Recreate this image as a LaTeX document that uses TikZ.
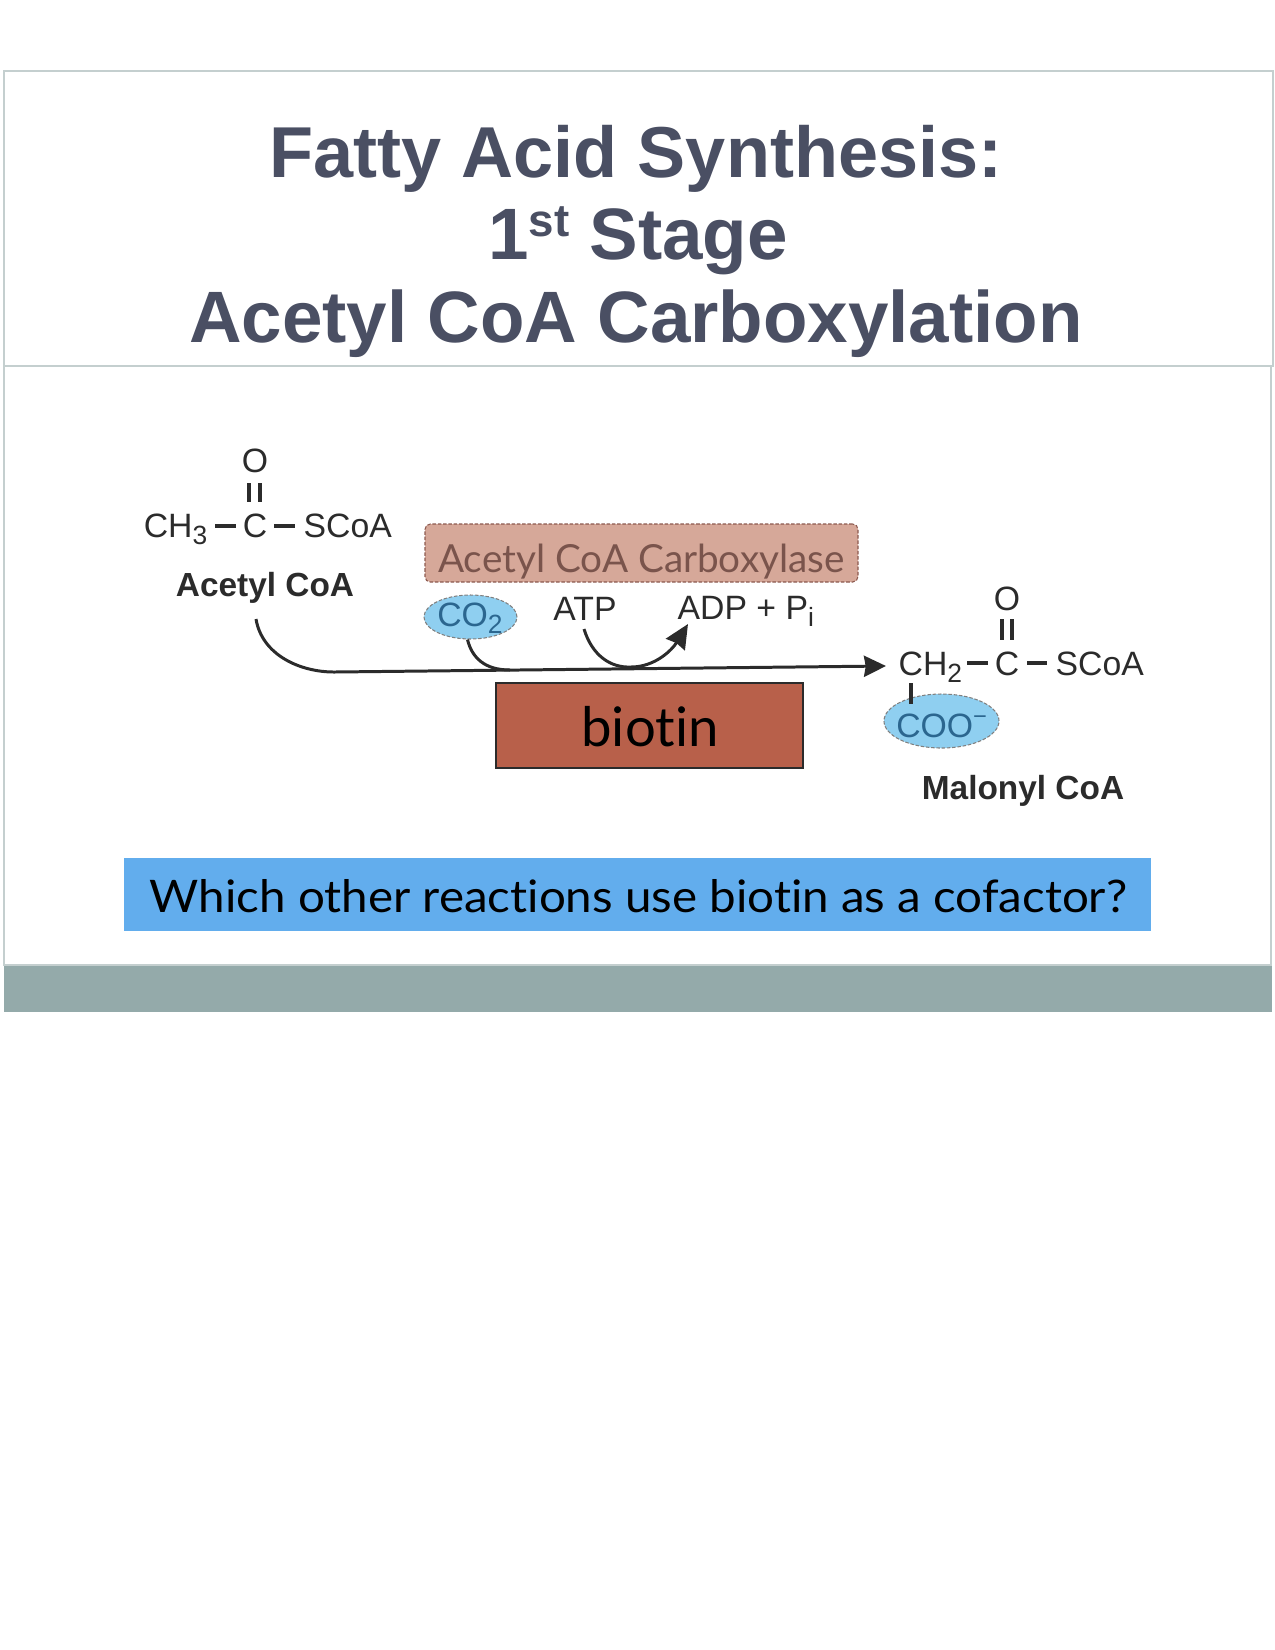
\documentclass[tikz,border=0pt]{standalone}
\usepackage{fontspec}
\usetikzlibrary{arrows.meta,shapes.geometric}
\setmainfont{Liberation Sans}
\newfontfamily\handfont[Ligatures=NoCommon]{Lato}
\newfontfamily\handwide[Ligatures=NoCommon,FakeStretch=1.06]{Lato}
\newcommand{\chemsub}[1]{\raisebox{-2.2pt}{\fontsize{7.5}{8}\selectfont #1}}
\definecolor{framegray}{rgb}{0.77,0.81,0.81}
\definecolor{bargray}{rgb}{0.58,0.667,0.667}
\definecolor{titleslate}{rgb}{0.29,0.31,0.39}
\definecolor{enzymefill}{rgb}{0.84,0.66,0.6}
\definecolor{enzymeedge}{rgb}{0.55,0.35,0.31}
\definecolor{enzymeink}{rgb}{0.48,0.33,0.3}
\definecolor{biotinfill}{rgb}{0.72,0.376,0.29}
\definecolor{lobefill}{rgb}{0.56,0.81,0.94}
\definecolor{lobeink}{rgb}{0.17,0.4,0.56}
\definecolor{questionfill}{rgb}{0.384,0.678,0.93}
\definecolor{inkgray}{rgb}{0.17,0.17,0.17}
\tikzset{
  titletext/.style={anchor=base,inner sep=0,text=titleslate,font=\fontsize{20.7}{24}\bfseries\selectfont},
  chemtext/.style={anchor=base,inner sep=0,text=inkgray,font=\fontsize{9.6}{12}\selectfont},
  chemname/.style={anchor=base,inner sep=0,text=inkgray,font=\fontsize{9.5}{11}\bfseries\selectfont},
  lobe/.style={draw=gray,dash pattern=on 1pt off 0.5pt,line width=0.3pt,fill=lobefill,ellipse,inner sep=0},
  lobetext/.style={anchor=base,inner sep=0,text=lobeink,font=\fontsize{9.6}{12}\selectfont},
  handtext/.style={anchor=base,inner sep=0},
  bondline/.style={inkgray,line width=1pt},
  reactline/.style={inkgray,line width=0.85pt},
}
\begin{document}
\begin{tikzpicture}[x=0.01cm,y=-0.01cm]
\useasboundingbox (0,0) rectangle (1275,1650);
\draw[framegray,line width=0.5pt] (4,71) rectangle (1273,366);
\draw[framegray,line width=0.4pt] (4,366) rectangle (1271,965);
\fill[bargray] (4,966) rectangle (1272,1012);
\node[titletext,font=\fontsize{20.5}{24}\bfseries\selectfont] (titleone) at (636,177) {Fatty Acid Synthesis:};
\node[titletext] (titletwo) at (638,259) {1\raisebox{6.5pt}{\fontsize{13}{13}\bfseries\selectfont st} Stage};
\node[titletext] (titlethree) at (636,342) {Acetyl CoA Carboxylation};
\node[chemtext] (acetylo) at (255,472) {O};
\node[chemtext] (acetylc) at (255,537) {C};
\node[chemtext,anchor=base east] (acetylch) at (208,537) {CH\chemsub{3}};
\node[chemtext,anchor=base west] (acetyls) at (303,537) {SCoA};
\node[chemname] (acetylname) at (265,596) {Acetyl CoA};
\draw[bondline] (215,526) -- (236,526);
\draw[bondline] (274,526) -- (295,526);
\draw[bondline] (249,483) -- (249,502);
\draw[bondline] (260,483) -- (260,502);
\node[draw=enzymeedge,dash pattern=on 1pt off 0.5pt,line width=0.3pt,fill=enzymefill,rounded corners=1.5pt,inner sep=0,minimum width=433*0.01cm,minimum height=58*0.01cm] (enzyme) at (641.5,553) {};
\node[handtext,text=enzymeink,font=\handfont\fontsize{11}{13}\selectfont] (enzymename) at (641.5,572) {Acetyl CoA Carboxylase};
\node[lobe,minimum width=93*0.01cm,minimum height=44*0.01cm] (cotwo) at (470.5,617) {};
\node[lobetext] (cotwotext) at (470,626) {CO\chemsub{2}};
\node[chemtext] (atp) at (585,620) {ATP};
\node[chemtext,anchor=base west] (adp) at (677,619) {ADP + P\chemsub{i}};
\node[draw=inkgray,line width=0.5pt,fill=biotinfill,inner sep=0,minimum width=307*0.01cm,minimum height=85*0.01cm] (biotin) at (649.5,725.5) {};
\node[handtext,font=\handfont\fontsize{15.5}{17}\selectfont] (biotinname) at (650,746) {biotin};
\node[chemtext,anchor=base west] (malonylch) at (898,675) {CH\chemsub{2}};
\node[chemtext] (malonylc) at (1007,675) {C};
\node[chemtext] (malonylo) at (1007,610) {O};
\node[chemtext,anchor=base west] (malonyls) at (1055,675) {SCoA};
\node[lobe,minimum width=115*0.01cm,minimum height=54*0.01cm] (coo) at (941.5,721) {};
\node[lobetext] (cootext) at (942.5,737) {COO\textsuperscript{−}};
\node[chemname] (malonylname) at (1023,799) {Malonyl CoA};
\draw[bondline] (967,663) -- (988,663);
\draw[bondline] (1027,663) -- (1047,663);
\draw[bondline] (1002,619) -- (1002,640);
\draw[bondline] (1012,619) -- (1012,640);
\draw[bondline] (911,683) -- (911,704);
\coordinate (mainstart) at (256,619);
\coordinate (mainbend) at (334,672);
\coordinate (mainend) at (886,666);
\coordinate (cotwojoin) at (510,670);
\coordinate (atpstart) at (584,629);
\coordinate (atpdip) at (631,667);
\coordinate (adpend) at (688,624);
\draw[reactline,-{Stealth[length=0.22cm,width=0.21cm,inset=0.5pt]}] (mainstart) .. controls (262,655) and (300,672) .. (mainbend) -- (mainend);
\draw[reactline] (cotwo.south) ++(-3,0) .. controls (472,658) and (485,670) .. (cotwojoin);
\draw[reactline,-{Stealth[length=0.24cm,width=0.22cm,inset=0.5pt]}] (atpstart) .. controls (592,655) and (610,668) .. (atpdip) .. controls (655,667) and (672,650) .. (adpend);
\node[fill=questionfill,inner sep=0,minimum width=1027.5*0.01cm,minimum height=73*0.01cm] (question) at (637.5,894.5) {};
\node[handtext,font=\handwide\fontsize{12.75}{15}\selectfont] (questiontext) at (638.5,912) {Which other reactions use biotin as a cofactor?};
\end{tikzpicture}
\end{document}
